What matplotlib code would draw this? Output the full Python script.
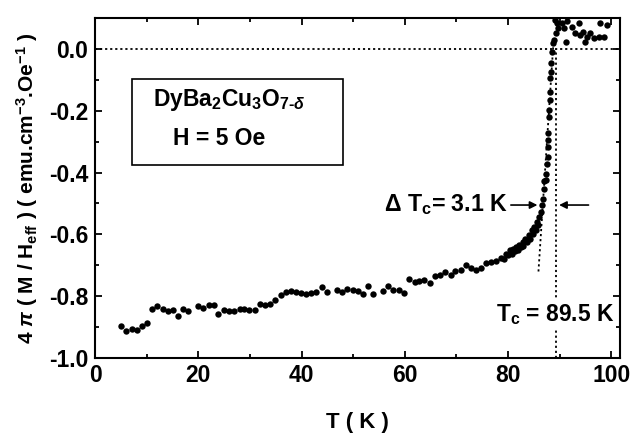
import matplotlib
matplotlib.use("Agg")
import matplotlib.pyplot as plt
from matplotlib.patches import Rectangle
from matplotlib.ticker import MultipleLocator, FormatStrFormatter

plt.rcParams["font.family"] = "Liberation Sans"
plt.rcParams["font.weight"] = "bold"
plt.rcParams["mathtext.fontset"] = "custom"
plt.rcParams["mathtext.rm"] = "Liberation Sans:bold"
plt.rcParams["mathtext.it"] = "Liberation Sans:italic:bold"
plt.rcParams["mathtext.bf"] = "Liberation Sans:bold"

# temperature (K) and susceptibility 4pi M/Heff
temp_low = [5.0, 6.0, 7.1, 8.1, 9.1, 10.1, 11.0, 12.0, 13.1, 14.1, 15.1, 16.1, 17.1,
            18.1, 20.0, 21.0, 22.0, 23.0, 23.9, 25.0, 26.0, 26.9, 28.0, 28.9, 29.9,
            30.9, 31.9, 32.9, 33.9, 34.8, 36.0, 37.0, 38.0, 39.0, 39.9, 40.9, 41.9,
            42.9, 43.9, 44.9, 46.8, 47.8, 48.9, 49.9, 50.9, 51.9, 52.8, 53.8, 55.8,
            56.8, 57.8, 58.9, 59.8]
chi_low = [-0.895, -0.914, -0.906, -0.909, -0.895, -0.887, -0.842, -0.831, -0.841,
           -0.849, -0.843, -0.863, -0.842, -0.848, -0.833, -0.839, -0.830, -0.829,
           -0.856, -0.846, -0.848, -0.847, -0.842, -0.840, -0.843, -0.843, -0.826,
           -0.828, -0.825, -0.812, -0.795, -0.787, -0.784, -0.785, -0.788, -0.792,
           -0.791, -0.787, -0.770, -0.785, -0.781, -0.785, -0.777, -0.779, -0.782,
           -0.792, -0.766, -0.792, -0.783, -0.766, -0.781, -0.781, -0.788]

temp_mid = [60.9, 61.9, 62.8, 63.8, 64.9, 65.8, 66.9, 67.8, 68.9, 69.8, 70.8, 71.8,
            72.8, 73.8, 74.7, 75.8, 76.7, 77.7, 78.7, 79.7, 80.3, 81.0, 81.6, 82.2,
            82.9, 83.3, 84.0, 84.6, 85.1, 85.6, 86.1, 86.4, 86.6, 86.8,
            79.2, 80.0, 80.8, 81.4, 82.0, 82.6, 83.0, 83.6, 84.3, 84.9, 85.4, 85.9]
chi_mid = [-0.743, -0.754, -0.751, -0.747, -0.757, -0.735, -0.730, -0.723, -0.732,
           -0.719, -0.716, -0.700, -0.708, -0.716, -0.710, -0.693, -0.689, -0.685,
           -0.675, -0.665, -0.652, -0.646, -0.641, -0.634, -0.625, -0.614, -0.603,
           -0.587, -0.576, -0.560, -0.544, -0.527, -0.506, -0.484,
           -0.680, -0.668, -0.662, -0.655, -0.650, -0.640, -0.636, -0.626, -0.615,
           -0.600, -0.585, -0.568]

temp_trans = [86.9, 87.0, 87.3, 87.3, 87.5, 87.7, 87.7, 87.8, 87.8, 87.9, 88.0, 88.1,
              88.1, 88.2, 88.3, 88.4, 88.6, 88.7, 89.0, 89.3, 89.6, 89.4, 89.2]
chi_trans = [-0.452, -0.427, -0.425, -0.403, -0.371, -0.349, -0.317, -0.295, -0.273,
             -0.219, -0.198, -0.165, -0.138, -0.095, -0.074, -0.046, -0.009, 0.018,
             0.029, 0.051, 0.067, 0.083, 0.094]

temp_high = [90.5, 90.8, 91.3, 91.4, 92.4, 93.0, 93.7, 94.0, 94.6, 95.0, 95.3, 95.9,
             96.6, 97.6, 97.9, 98.5, 99.2]
chi_high = [0.083, 0.067, 0.021, 0.089, 0.072, 0.051, 0.083, 0.045, 0.056, 0.024,
            0.040, 0.051, 0.035, 0.040, 0.083, 0.040, 0.078]

temp = temp_low + temp_mid + temp_trans + temp_high
chi = chi_low + chi_mid + chi_trans + chi_high

tangent_t = [85.9, 88.8]
tangent_chi = [-0.72, 0.02]
tc_onset = 89.3

fig = plt.figure(figsize=(6.31, 4.34), dpi=100)
ax = fig.add_axes([0.1506, 0.175, 0.832, 0.7835])

dots = (0, (1.2, 1.6))
ax.axhline(0.0, color="black", linestyle=dots, linewidth=1.3)
ax.plot([tc_onset, tc_onset], [-1.0, 0.0], color="black", linestyle=dots, linewidth=1.3)
ax.plot(tangent_t, tangent_chi, color="black", linestyle=dots, linewidth=1.3)
ax.plot(temp, chi, "o", color="black", markersize=4.6, markeredgewidth=0)

ax.set_xlim(0, 101.7)
ax.set_ylim(-1.0, 0.1)
ax.xaxis.set_major_locator(MultipleLocator(20))
ax.xaxis.set_minor_locator(MultipleLocator(10))
ax.yaxis.set_major_locator(MultipleLocator(0.2))
ax.yaxis.set_minor_locator(MultipleLocator(0.1))
ax.yaxis.set_major_formatter(FormatStrFormatter("%.1f"))
ax.tick_params(which="both", direction="in", top=True, right=True, width=1.3)
ax.tick_params(which="major", length=5, labelsize=16.5, pad=4)
ax.tick_params(which="minor", length=3)
ax.tick_params(axis="y", pad=5)
for s in ax.spines.values():
    s.set_linewidth(1.5)

ax.set_xlabel("T ( K )", fontsize=16, fontweight="bold", labelpad=18)
ax.set_ylabel(r"4 $\pi$ ( M / H$_{\rm eff}$ ) ( emu.cm$^{-3}$.Oe$^{-1}$ )",
              fontsize=15, fontweight="bold", labelpad=6)

ax.add_patch(Rectangle((0.07, 0.568), 0.403, 0.252, transform=ax.transAxes,
                       fill=False, edgecolor="black", linewidth=1.2))
ax.text(0.111, 0.76, r"DyBa$_2$Cu$_3$O$_{7\text{-}\mathit{\delta}}$", transform=ax.transAxes,
        fontsize=16.5, fontweight="bold", va="center", ha="left")
ax.text(0.149, 0.645, "H = 5 Oe", transform=ax.transAxes,
        fontsize=16.5, fontweight="bold", va="center", ha="left")

ax.annotate(r"$\Delta$ T$_{\rm c}$= 3.1 K", xy=(85.7, -0.505), xytext=(56.0, -0.505),
            fontsize=16.7, fontweight="bold", va="center", ha="left",
            arrowprops=dict(arrowstyle="-|>", color="black", lw=1.2, mutation_scale=11,
                            shrinkA=0, shrinkB=0))
ax.annotate("", xy=(89.9, -0.505), xytext=(95.6, -0.505),
            arrowprops=dict(arrowstyle="-|>", color="black", lw=1.2, mutation_scale=11,
                            shrinkA=0, shrinkB=0))
ax.text(100.6, -0.858, r"T$_{\rm c}$ = 89.5 K", fontsize=16.4, fontweight="bold",
        va="center", ha="right",
        bbox=dict(facecolor="white", edgecolor="none", pad=1))

fig.savefig("out.png", dpi=100)
